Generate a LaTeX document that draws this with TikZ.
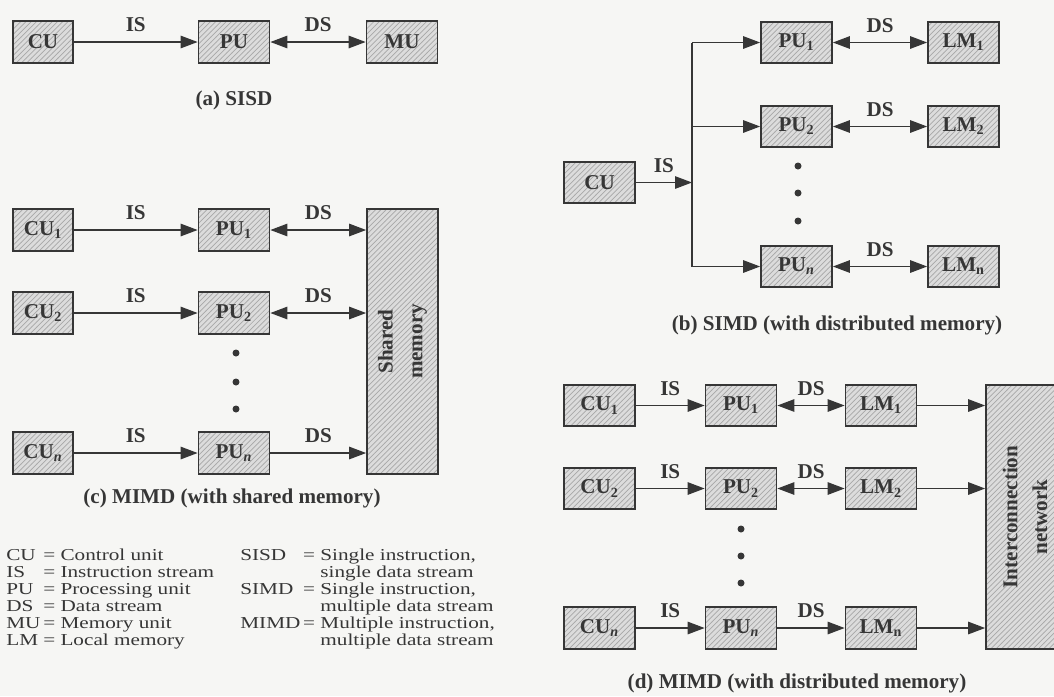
\documentclass[tikz,border=0pt]{standalone}
\usepackage{fontspec}
\setmainfont{Liberation Serif}
\newfontfamily\keyfont{Liberation Serif}[FakeStretch=1.27]
\usepackage{tikz}
\usetikzlibrary{arrows.meta,positioning,patterns}
\definecolor{paper}{HTML}{F6F6F4}
\definecolor{boxfill}{HTML}{DCDCDC}
\definecolor{hatch}{HTML}{A8A8A8}
\definecolor{ink}{HTML}{363636}

\begin{document}
\begin{tikzpicture}[x=0.2mm, y=-0.2mm,
  unit/.style={
    rectangle, draw=ink, line width=1pt, preaction={fill=boxfill},
    pattern=north east lines, pattern color=hatch, text=ink,
    minimum width=1.42cm, minimum height=0.83cm, inner sep=0pt,
    font=\bfseries\fontsize{12}{13}\selectfont
  },
  cubox/.style={unit, minimum width=1.2cm},
  tall/.style={unit, minimum width=1.42cm, minimum height=5.3cm},
  talltext/.style={rotate=90, align=center, text=ink,
    font=\bfseries\fontsize{12}{17}\selectfont},
  lbl/.style={above=2pt, midway, text=ink, font=\bfseries\fontsize{12}{13}\selectfont},
  caption/.style={text=ink, font=\bfseries\fontsize{12}{13}\selectfont},
  keytext/.style={anchor=north west, inner sep=0pt, text=ink,
    font=\keyfont\fontsize{9.5}{9.7}\selectfont},
  arrow/.style={-{Triangle[length=3.4mm,width=2.5mm]}, line width=0.7pt, draw=ink},
  biarrow/.style={{Triangle[length=3.4mm,width=2.5mm]}-{Triangle[length=3.4mm,width=2.5mm]},
    line width=0.7pt, draw=ink},
  dot/.style={circle, fill=ink, inner sep=0pt, minimum size=1.4mm}
]
\useasboundingbox (0,0) rectangle (1054,696);
\fill[paper] (0,0) rectangle (1054,696);
\clip (0,0) rectangle (1054,696);

\node[cubox] (cua) at (43,42) {CU};
\node[unit] (pua) at (234,42) {PU};
\node[unit] (mua) at (402,42) {MU};
\draw[arrow] (cua) -- (pua) node[lbl] {IS};
\draw[biarrow] (pua) -- (mua) node[lbl] {DS};
\node[caption] (capa) at (234,100) {(a) SISD};

\node[cubox] (cuc1) at (43,230) {CU\textsubscript{1}};
\node[cubox] (cuc2) at (43,313) {CU\textsubscript{2}};
\node[cubox] (cucn) at (43,453) {CU\textsubscript{\textit{n}}};
\node[unit] (puc1) at (234,230) {PU\textsubscript{1}};
\node[unit] (puc2) at (234,313) {PU\textsubscript{2}};
\node[unit] (pucn) at (234,453) {PU\textsubscript{\textit{n}}};
\node[tall] (shm) at (402.5,341.5) {};
\node[talltext] (shmtext) at (shm.center) {Shared\\memory};
\node[dot] (dotc1) at (236,353) {};
\node[dot] (dotc2) at (236,382) {};
\node[dot] (dotc3) at (236,409) {};
\draw[arrow] (cuc1) -- (puc1) node[lbl] {IS};
\draw[arrow] (cuc2) -- (puc2) node[lbl] {IS};
\draw[arrow] (cucn) -- (pucn) node[lbl] {IS};
\draw[biarrow] (puc1) -- (puc1 -| shm.west) node[lbl] {DS};
\draw[biarrow] (puc2) -- (puc2 -| shm.west) node[lbl] {DS};
\draw[arrow] (pucn) -- (pucn -| shm.west) node[lbl] {DS};
\node[caption] (capc) at (232,498) {(c) MIMD (with shared memory)};

\node[keytext] (keyleft) at (6,548) {\begin{tabular}{@{}l@{\,}l@{}}
CU & = Control unit\\
IS & = Instruction stream\\
PU & = Processing unit\\
DS & = Data stream\\
MU & = Memory unit\\
LM & = Local memory
\end{tabular}};
\node[keytext] (keyright) at (240,548) {\begin{tabular}{@{}l@{\,}l@{\ }l@{}}
SISD & = & Single instruction,\\
 & & single data stream\\
SIMD & = & Single instruction,\\
 & & multiple data stream\\
MIMD & = & Multiple instruction,\\
 & & multiple data stream
\end{tabular}};

\node[unit] (cub) at (599.5,182.5) {CU};
\coordinate (branch) at (692,182.5);
\node[unit] (pub1) at (796.5,42.5) {PU\textsubscript{1}};
\node[unit] (pub2) at (796.5,126.5) {PU\textsubscript{2}};
\node[unit] (pubn) at (796.5,266.5) {PU\textsubscript{\textit{n}}};
\node[unit] (lmb1) at (963.5,42.5) {LM\textsubscript{1}};
\node[unit] (lmb2) at (963.5,126.5) {LM\textsubscript{2}};
\node[unit] (lmbn) at (963.5,266.5) {LM\textsubscript{n}};
\node[dot] (dotb1) at (798,166) {};
\node[dot] (dotb2) at (798,193) {};
\node[dot] (dotb3) at (798,221) {};
\draw[arrow] (cub) -- (branch) node[lbl] {IS};
\draw[line width=0.7pt, draw=ink] (branch |- pub1) -- (branch |- pubn);
\draw[arrow] (branch |- pub1) -- (pub1);
\draw[arrow] (branch |- pub2) -- (pub2);
\draw[arrow] (branch |- pubn) -- (pubn);
\draw[biarrow] (pub1) -- (lmb1) node[lbl] {DS};
\draw[biarrow] (pub2) -- (lmb2) node[lbl] {DS};
\draw[biarrow] (pubn) -- (lmbn) node[lbl] {DS};
\node[caption] (capb) at (837,325) {(b) SIMD (with distributed memory)};

\node[unit] (cud1) at (599.5,405.5) {CU\textsubscript{1}};
\node[unit] (cud2) at (599.5,488.5) {CU\textsubscript{2}};
\node[unit] (cudn) at (599.5,628) {CU\textsubscript{\textit{n}}};
\node[unit] (pud1) at (741,405.5) {PU\textsubscript{1}};
\node[unit] (pud2) at (741,488.5) {PU\textsubscript{2}};
\node[unit] (pudn) at (741,628) {PU\textsubscript{\textit{n}}};
\node[unit] (lmd1) at (881,405.5) {LM\textsubscript{1}};
\node[unit] (lmd2) at (881,488.5) {LM\textsubscript{2}};
\node[unit] (lmdn) at (881,628) {LM\textsubscript{n}};
\node[tall, minimum width=1.5cm, minimum height=5.28cm] (net) at (1023.5,517) {};
\node[talltext] (nettext) at (1025,517) {Interconnection\\network};
\node[dot] (dotd1) at (741,529) {};
\node[dot] (dotd2) at (741,556) {};
\node[dot] (dotd3) at (741,583) {};
\draw[arrow] (cud1) -- (pud1) node[lbl] {IS};
\draw[arrow] (cud2) -- (pud2) node[lbl] {IS};
\draw[arrow] (cudn) -- (pudn) node[lbl] {IS};
\draw[biarrow] (pud1) -- (lmd1) node[lbl] {DS};
\draw[biarrow] (pud2) -- (lmd2) node[lbl] {DS};
\draw[arrow] (pudn) -- (lmdn) node[lbl] {DS};
\draw[arrow] (lmd1) -- (lmd1 -| net.west);
\draw[arrow] (lmd2) -- (lmd2 -| net.west);
\draw[arrow] (lmdn) -- (lmdn -| net.west);
\node[caption] (capd) at (797,683) {(d) MIMD (with distributed memory)};
\end{tikzpicture}
\end{document}
